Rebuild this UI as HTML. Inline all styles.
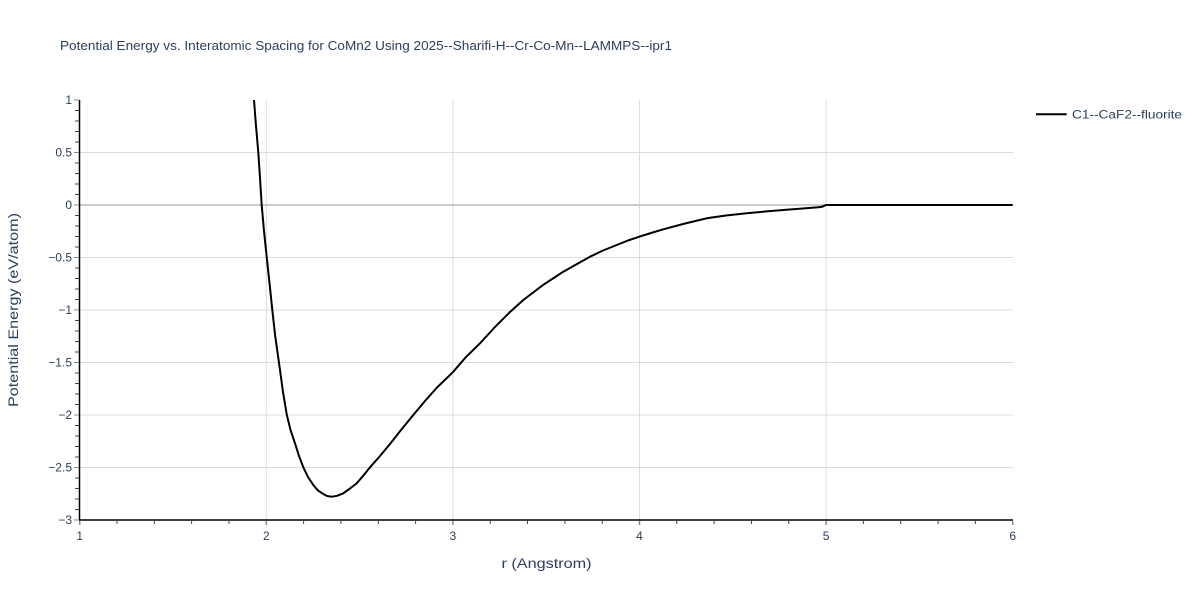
<!DOCTYPE html>
<html>
<head>
<meta charset="utf-8">
<style>
html,body{margin:0;padding:0;background:#fff;}
svg{display:block;}
text{font-family:"Liberation Sans","DejaVu Sans",sans-serif;fill:#2a3f5f;}
</style>
</head>
<body>
<svg width="1200" height="600" viewBox="0 0 1200 600" xmlns="http://www.w3.org/2000/svg">
<rect width="1200" height="600" fill="#fff"/>
<!-- gridlines -->
<g stroke="#dcdcdc" stroke-width="1">
<line x1="266.3" y1="100" x2="266.3" y2="520"/>
<line x1="452.9" y1="100" x2="452.9" y2="520"/>
<line x1="639.5" y1="100" x2="639.5" y2="520"/>
<line x1="826.1" y1="100" x2="826.1" y2="520"/>
<line x1="80" y1="152.5" x2="1013" y2="152.5"/>
<line x1="80" y1="257.5" x2="1013" y2="257.5"/>
<line x1="80" y1="310" x2="1013" y2="310"/>
<line x1="80" y1="362.5" x2="1013" y2="362.5"/>
<line x1="80" y1="415" x2="1013" y2="415"/>
<line x1="80" y1="467.5" x2="1013" y2="467.5"/>
</g>
<line x1="80" y1="205" x2="1013" y2="205" stroke="#cccccc" stroke-width="2"/>
<!-- curve -->
<polyline fill="none" stroke="#000" stroke-width="2" stroke-linejoin="round" points="254,100 256,126 258.3,152.4 260,178 261.7,205 264,231 266.7,257 269.5,283 272.3,310 275.2,336 278.3,358 280,370 283,392 286.7,414.3 290.5,430 295,443.3 299,456 303.3,467.3 308,477 313.3,485 318,490.5 323.3,494 327,496 331.7,496.7 337,495.8 343.3,493.3 350,488.5 356.7,483.3 363,476 370,467.3 380,456 390,444 401,430 413.3,415 425,401 437,387.5 450,375 453.3,371.7 466,357 480,343.3 495,327 510,312 523.3,300 543,285 563.3,271.7 577,264 590,256.7 603,250.5 616.7,245 628,240.5 639.3,236.7 651,233 663.3,229.3 685,223.5 706.7,218.3 726,215.5 746.7,213.3 765,211.5 783.3,210 801,208.6 818.3,207.3 822,206.8 826,205 1012.7,205"/>
<!-- axes -->
<line x1="79.5" y1="100" x2="79.5" y2="520.5" stroke="#000" stroke-width="1.5"/>
<line x1="79" y1="520" x2="1013" y2="520" stroke="#000" stroke-width="1.5"/>
<!-- y ticks -->
<g stroke="#444" stroke-width="1">
<line x1="75" y1="110.5" x2="79" y2="110.5"/><line x1="75" y1="121" x2="79" y2="121"/><line x1="75" y1="131.5" x2="79" y2="131.5"/><line x1="75" y1="142" x2="79" y2="142"/>
<line x1="75" y1="163" x2="79" y2="163"/><line x1="75" y1="173.5" x2="79" y2="173.5"/><line x1="75" y1="184" x2="79" y2="184"/><line x1="75" y1="194.5" x2="79" y2="194.5"/>
<line x1="75" y1="215.5" x2="79" y2="215.5"/><line x1="75" y1="226" x2="79" y2="226"/><line x1="75" y1="236.5" x2="79" y2="236.5"/><line x1="75" y1="247" x2="79" y2="247"/>
<line x1="75" y1="268" x2="79" y2="268"/><line x1="75" y1="278.5" x2="79" y2="278.5"/><line x1="75" y1="289" x2="79" y2="289"/><line x1="75" y1="299.5" x2="79" y2="299.5"/>
<line x1="75" y1="320.5" x2="79" y2="320.5"/><line x1="75" y1="331" x2="79" y2="331"/><line x1="75" y1="341.5" x2="79" y2="341.5"/><line x1="75" y1="352" x2="79" y2="352"/>
<line x1="75" y1="373" x2="79" y2="373"/><line x1="75" y1="383.5" x2="79" y2="383.5"/><line x1="75" y1="394" x2="79" y2="394"/><line x1="75" y1="404.5" x2="79" y2="404.5"/>
<line x1="75" y1="425.5" x2="79" y2="425.5"/><line x1="75" y1="436" x2="79" y2="436"/><line x1="75" y1="446.5" x2="79" y2="446.5"/><line x1="75" y1="457" x2="79" y2="457"/>
<line x1="75" y1="478" x2="79" y2="478"/><line x1="75" y1="488.5" x2="79" y2="488.5"/><line x1="75" y1="499" x2="79" y2="499"/><line x1="75" y1="509.5" x2="79" y2="509.5"/>
</g>
<g stroke="#888" stroke-width="1">
<line x1="74" y1="100" x2="79" y2="100"/><line x1="74" y1="152.5" x2="79" y2="152.5"/><line x1="74" y1="205" x2="79" y2="205"/><line x1="74" y1="257.5" x2="79" y2="257.5"/><line x1="74" y1="310" x2="79" y2="310"/><line x1="74" y1="362.5" x2="79" y2="362.5"/><line x1="74" y1="415" x2="79" y2="415"/><line x1="74" y1="467.5" x2="79" y2="467.5"/><line x1="74" y1="520" x2="79" y2="520"/>
</g>
<!-- x ticks -->
<g stroke="#444" stroke-width="1">
<line x1="117" y1="521" x2="117" y2="524"/><line x1="154.3" y1="521" x2="154.3" y2="524"/><line x1="191.6" y1="521" x2="191.6" y2="524"/><line x1="229" y1="521" x2="229" y2="524"/>
<line x1="303.6" y1="521" x2="303.6" y2="524"/><line x1="340.9" y1="521" x2="340.9" y2="524"/><line x1="378.3" y1="521" x2="378.3" y2="524"/><line x1="415.6" y1="521" x2="415.6" y2="524"/>
<line x1="490.2" y1="521" x2="490.2" y2="524"/><line x1="527.5" y1="521" x2="527.5" y2="524"/><line x1="564.9" y1="521" x2="564.9" y2="524"/><line x1="602.2" y1="521" x2="602.2" y2="524"/>
<line x1="676.8" y1="521" x2="676.8" y2="524"/><line x1="714.1" y1="521" x2="714.1" y2="524"/><line x1="751.5" y1="521" x2="751.5" y2="524"/><line x1="788.8" y1="521" x2="788.8" y2="524"/>
<line x1="863.4" y1="521" x2="863.4" y2="524"/><line x1="900.7" y1="521" x2="900.7" y2="524"/><line x1="938.1" y1="521" x2="938.1" y2="524"/><line x1="975.4" y1="521" x2="975.4" y2="524"/>
</g>
<g stroke="#888" stroke-width="1.5">
<line x1="79.7" y1="521" x2="79.7" y2="525"/><line x1="266.3" y1="521" x2="266.3" y2="525"/><line x1="452.9" y1="521" x2="452.9" y2="525"/><line x1="639.5" y1="521" x2="639.5" y2="525"/><line x1="826.1" y1="521" x2="826.1" y2="525"/><line x1="1012.7" y1="521" x2="1012.7" y2="525"/>
</g>
<!-- y tick labels -->
<g font-size="12" text-anchor="end">
<text x="72" y="104">1</text>
<text x="72" y="156.5">0.5</text>
<text x="72" y="209">0</text>
<text x="72" y="261.5">−0.5</text>
<text x="72" y="314">−1</text>
<text x="72" y="366.5">−1.5</text>
<text x="72" y="419">−2</text>
<text x="72" y="471.5">−2.5</text>
<text x="72" y="524">−3</text>
</g>
<!-- x tick labels -->
<g font-size="12" text-anchor="middle">
<text x="79.7" y="540">1</text>
<text x="266.3" y="540">2</text>
<text x="452.9" y="540">3</text>
<text x="639.5" y="540">4</text>
<text x="826.1" y="540">5</text>
<text x="1012.7" y="540">6</text>
</g>
<!-- axis titles -->
<text x="546.5" y="568" font-size="14" text-anchor="middle" textLength="90" lengthAdjust="spacingAndGlyphs">r (Angstrom)</text>
<text transform="translate(18,310) rotate(-90)" font-size="14" text-anchor="middle" textLength="194" lengthAdjust="spacingAndGlyphs">Potential Energy (eV/atom)</text>
<!-- title -->
<text x="60" y="50" font-size="12.5" textLength="612" lengthAdjust="spacingAndGlyphs">Potential Energy vs. Interatomic Spacing for CoMn2 Using 2025--Sharifi-H--Cr-Co-Mn--LAMMPS--ipr1</text>
<!-- legend -->
<line x1="1036" y1="114.3" x2="1066.7" y2="114.3" stroke="#000" stroke-width="2"/>
<text x="1072" y="118.5" font-size="12" textLength="110" lengthAdjust="spacingAndGlyphs">C1--CaF2--fluorite</text>
</svg>
</body>
</html>
